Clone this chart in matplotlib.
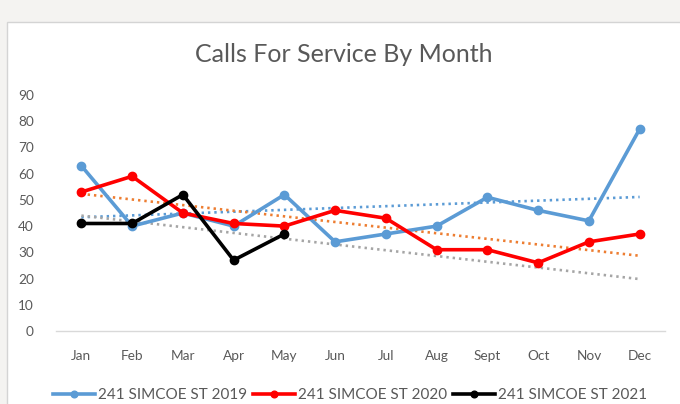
import numpy as np
import matplotlib
matplotlib.use("Agg")
import matplotlib.pyplot as plt
from matplotlib.patches import Rectangle

months = ["Jan", "Feb", "Mar", "Apr", "May", "Jun", "Jul", "Aug", "Sept", "Oct", "Nov", "Dec"]
s2019 = [63, 40, 45, 40, 52, 34, 37, 40, 51, 46, 42, 77]
s2020 = [53, 59, 45, 41, 40, 46, 43, 31, 31, 26, 34, 37]
s2021 = [41, 41, 52, 27, 37]
labels = ["241 SIMCOE ST 2019", "241 SIMCOE ST 2020", "241 SIMCOE ST 2021"]
yticks = [0, 10, 20, 30, 40, 50, 60, 70, 80, 90]

plt.rcParams['font.family'] = ['Lato', 'DejaVu Sans']

fig = plt.figure(figsize=(6.8, 4.04), dpi=100)
fig.patch.set_facecolor("#f4f3f1")
bg = Rectangle((7/680, -0.01), 1, 1.01 - 22/404, transform=fig.transFigure,
               facecolor="white", edgecolor="#d4d4d4", linewidth=1, zorder=-5)
fig.patches.append(bg)

ax = fig.add_axes([56/680, 73/404, 609/680, 236/404])
ax.set_zorder(2)
ax.set_facecolor("none")

x_all = np.arange(1, 13)
series = [(s2019, "#5b9bd5", "#5b9bd5"), (s2020, "#ff0000", "#ed7d31"), (s2021, "#000000", "#a5a5a5")]
handles = []
for (vals, col, tcol), lab in zip(series, labels):
    x = np.arange(1, len(vals) + 1)
    m, b = np.polyfit(x, vals, 1)
    ax.plot(x_all, m * x_all + b, color=tcol, linewidth=1.9, linestyle=(0, (0.9, 1.5)),
            dash_capstyle="butt", zorder=2)
for (vals, col, tcol), lab in zip(series, labels):
    x = np.arange(1, len(vals) + 1)
    h, = ax.plot(x, vals, color=col, linewidth=2.6, marker="o", markersize=6, label=lab, zorder=3)
    handles.append(h)

ax.set_xlim(0.5, 12.5)
ax.set_ylim(0, 90)
ax.set_xticks(x_all)
ax.set_xticklabels(months)
ax.set_yticks(yticks)
for s in ["top", "right", "left"]:
    ax.spines[s].set_visible(False)
ax.spines["bottom"].set_color("#d9d9d9")
ax.spines["bottom"].set_linewidth(1)
ax.tick_params(axis="both", length=0, labelsize=9.8, labelcolor="#595959")
ax.tick_params(axis="x", pad=14)
ax.tick_params(axis="y", pad=16)

fig.text(0.5 + 3.5/680, 1 - 55/404, "Calls For Service By Month", ha="center", va="center",
         fontsize=18, color="#595959")

fig.legend(handles=handles, labels=labels, loc="center", bbox_to_anchor=(0.515, 9/404),
           ncol=3, frameon=False, fontsize=11, labelcolor="#595959",
           handlelength=2.75, handletextpad=0.2, columnspacing=0.4, markerscale=0.8)

fig.savefig("out.png", dpi=100, facecolor=fig.get_facecolor())
